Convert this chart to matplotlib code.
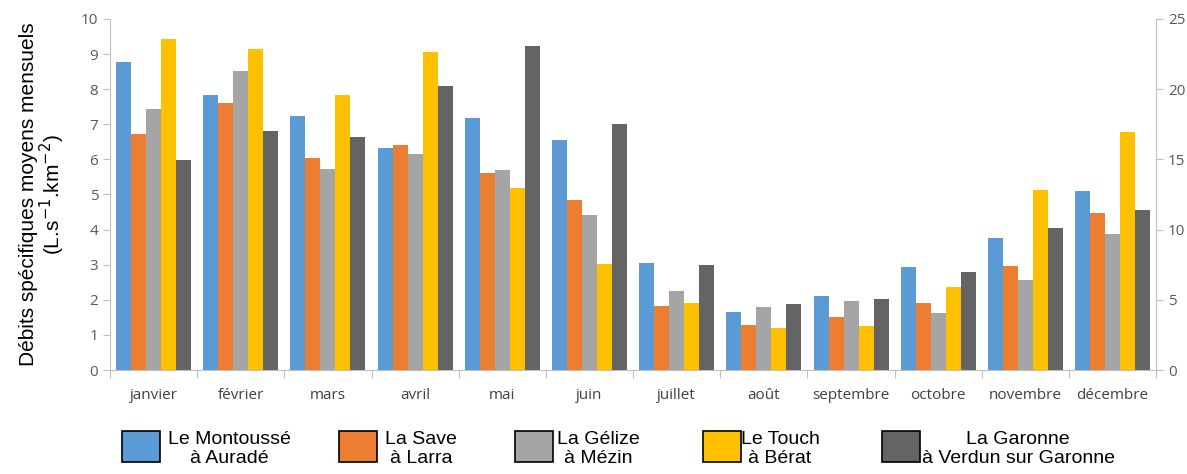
import matplotlib
matplotlib.use("Agg")
import matplotlib.pyplot as plt
from matplotlib.patches import Rectangle
import numpy as np

months = ["janvier", "février", "mars", "avril", "mai", "juin", "juillet",
          "août", "septembre", "octobre", "novembre", "décembre"]

series_names = ["Le Montoussé\nà Auradé", "La Save\nà Larra", "La Gélize\nà Mézin",
                "Le Touch\nà Bérat", "La Garonne\nà Verdun sur Garonne"]

montousse = [8.78, 7.82, 7.24, 6.31, 7.19, 6.54, 3.06, 1.64, 2.11, 2.94, 3.75, 5.10]
save = [6.73, 7.61, 6.04, 6.40, 5.60, 4.84, 1.82, 1.27, 1.50, 1.92, 2.96, 4.48]
gelize = [7.43, 8.53, 5.72, 6.14, 5.70, 4.41, 2.26, 1.79, 1.96, 1.61, 2.55, 3.88]
touch = [9.43, 9.14, 7.82, 9.05, 5.18, 3.03, 1.92, 1.19, 1.25, 2.36, 5.12, 6.77]
garonne = [5.99, 6.80, 6.63, 8.09, 9.24, 7.00, 2.98, 1.87, 2.02, 2.78, 4.04, 4.55]

left_ticks = [0, 1, 2, 3, 4, 5, 6, 7, 8, 9, 10]
right_ticks = [0, 5, 10, 15, 20, 25]

colors = ["#5B9BD5", "#ED7D31", "#A5A5A5", "#FFC000", "#646464"]
data = [montousse, save, gelize, touch, garonne]

fig = plt.figure(figsize=(11.87, 4.74), dpi=100)
ax = fig.add_axes([0.0927, 0.2194, 0.974 - 0.0927, 0.96 - 0.2194])

x = np.arange(len(months))
n = len(data)
bw = 0.86 / n
for i, (vals, c) in enumerate(zip(data, colors)):
    ax.bar(x - 0.43 + bw * (i + 0.5), vals, width=bw, color=c, linewidth=0)

ax.set_xlim(-0.5, len(months) - 0.5)
ax.set_ylim(0, 10)
ax.set_yticks(left_ticks)
ax.tick_params(axis="y", colors="#BFBFBF", labelsize=11, length=5, width=0.8,
               direction="out", labelcolor="#595959")
for lab in ax.get_yticklabels():
    lab.set_fontfamily("Open Sans")

# x ticks: marks at group boundaries, labels centred
ax.set_xticks(np.arange(len(months) + 1) - 0.5)
ax.set_xticklabels([])
ax.set_xticks(x, minor=True)
ax.set_xticklabels(months, minor=True, fontsize=11, color="#404040", family="Open Sans")
ax.tick_params(axis="x", which="major", length=6, width=0.8, colors="#BFBFBF")
ax.tick_params(axis="x", which="minor", length=0, pad=13)

for s in ["top", "right"]:
    ax.spines[s].set_visible(False)
ax.spines["left"].set_color("#BFBFBF")
ax.spines["bottom"].set_color("#BFBFBF")

ax.set_ylabel("Débits spécifiques moyens mensuels\n(L.s$^{-1}$.km$^{-2}$)",
              fontsize=15, family="Liberation Sans", color="black", labelpad=10,
              linespacing=1.0)

ax2 = ax.twinx()
ax2.set_ylim(0, 25)
ax2.set_yticks(right_ticks)
ax2.tick_params(axis="y", colors="#BFBFBF", labelcolor="#595959", labelsize=11,
                length=5, width=0.8)
for lab in ax2.get_yticklabels():
    lab.set_fontfamily("Open Sans")
for s in ["top", "left", "bottom"]:
    ax2.spines[s].set_visible(False)
ax2.spines["right"].set_color("#BFBFBF")

# legend below the plot
W, H = 1187, 474
sq_x = [122, 339, 515, 703, 882]
txt_x = [229, 421, 598, 780, 1018]
for name, c, sx, tx in zip(series_names, colors, sq_x, txt_x):
    fig.add_artist(Rectangle((sx / W, (H - 462) / H), 38 / W, 31 / H,
                             transform=fig.transFigure, facecolor=c,
                             edgecolor="black", linewidth=1.2))
    fig.text(tx / W, (H - 449) / H, name, ha="center", va="center",
             fontsize=14, family="Liberation Sans", linespacing=1.15)

fig.savefig("out.png", dpi=100)
